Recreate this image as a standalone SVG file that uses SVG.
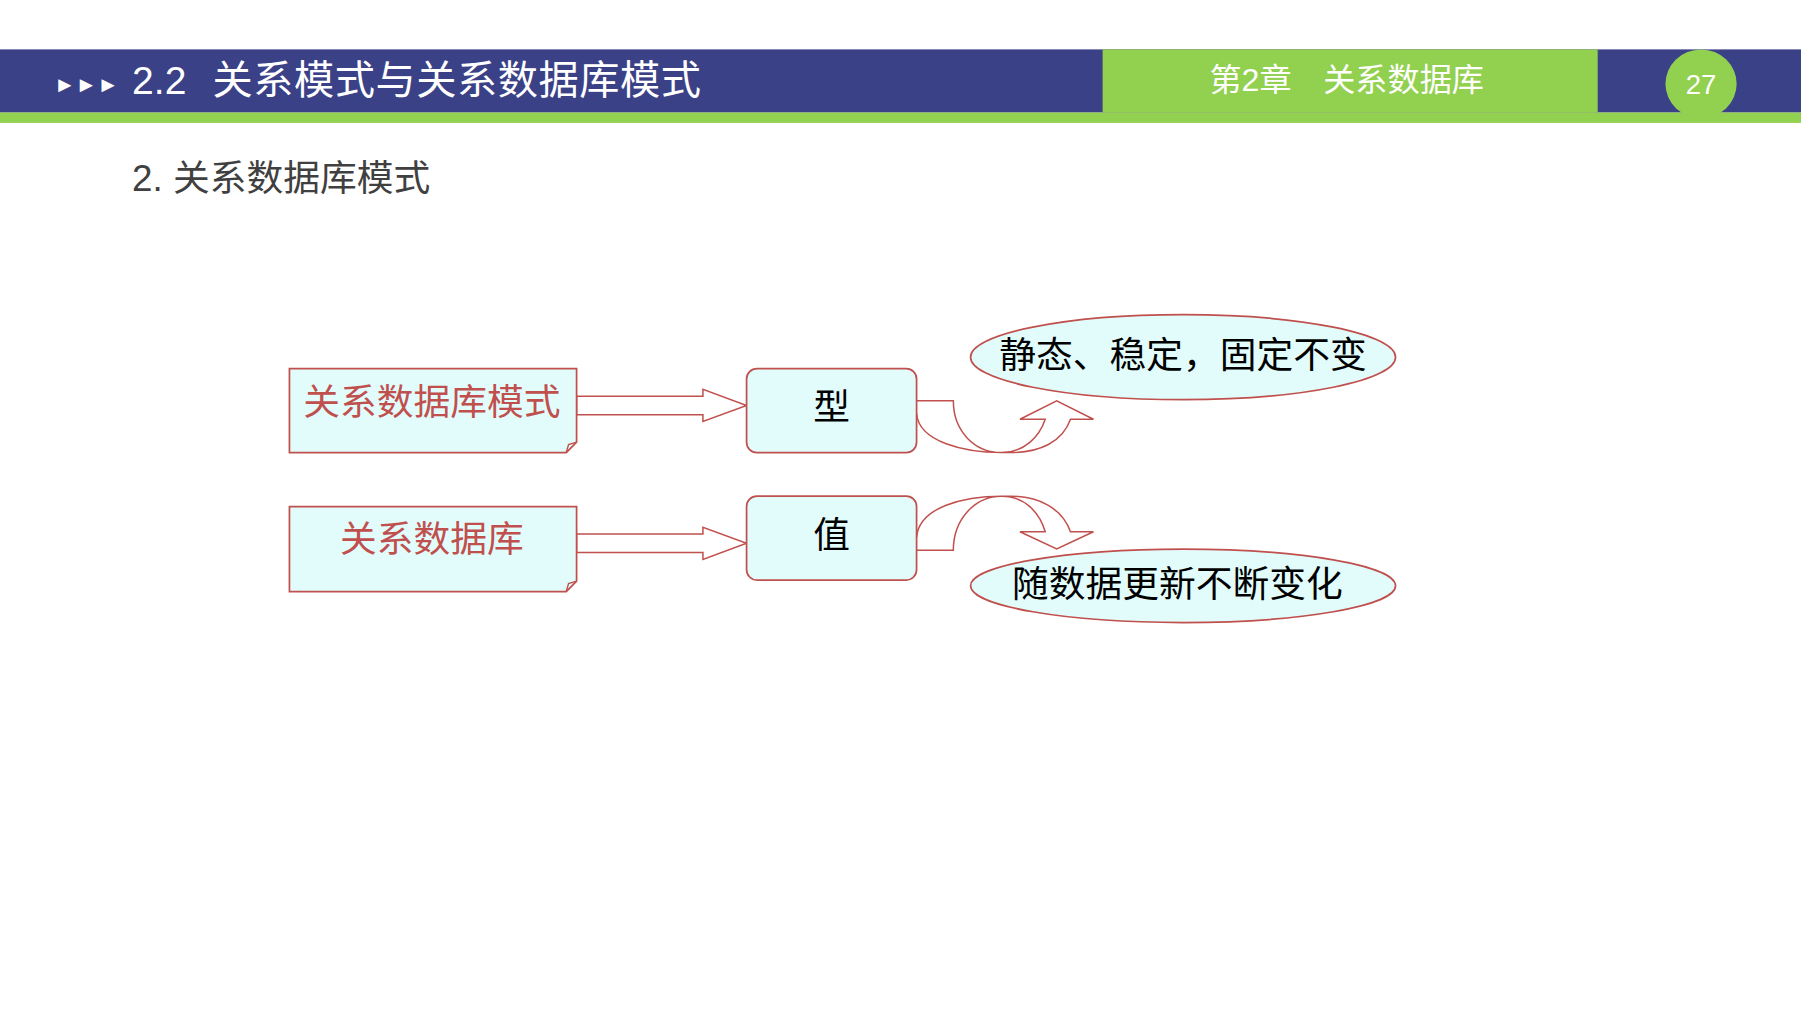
<svg xmlns="http://www.w3.org/2000/svg" width="1801" height="1013" viewBox="0 0 1801 1013">
<style>
text{font-family:"Liberation Sans","Noto Sans CJK SC",sans-serif}
.shape{fill:#e2fcfc;stroke:#c0504d;stroke-width:1.5}
.arr{fill:#fff;stroke:#c0504d;stroke-width:1.3}
.red{fill:#c0504d;font-size:32px;text-anchor:middle}
.blk{fill:#000;font-size:32px;text-anchor:middle}
</style>
<rect width="1801" height="1013" fill="#fff"/>
<g transform="scale(1.14859)">
<g id="header">
<rect x="0" y="43" width="1568" height="55" fill="#3b4187"/>
<rect x="0" y="98" width="1568" height="9" fill="#92d050"/>
<rect x="960" y="43" width="431" height="55" fill="#92d050"/>
<ellipse cx="1481" cy="73" rx="31" ry="30" fill="#92d050"/>
<text x="47" y="80" fill="#fff" font-size="19">►►►</text>
<text x="115" y="82" fill="#fff" font-size="34">2.2</text>
<text x="185" y="82" fill="#fff" font-size="35" letter-spacing="0.5">关系模式与关系数据库模式</text>
<text x="1053" y="79" fill="#fff" font-size="28">第2章</text>
<text x="1152" y="79" fill="#fff" font-size="28">关系数据库</text>
<text x="1481" y="82" fill="#fff" font-size="24" text-anchor="middle">27</text>
</g>
<text id="subtitle" x="115" y="166" fill="#404040" font-size="32">2. 关系数据库模式</text>
<g id="connectors">
<path class="arr" d="M502,345 H612 V339 L650,353 L612,367 V361 H502 Z"/>
<path class="arr" d="M502,465 H612 V459 L650,473 L612,487 V481 H502 Z"/>
<path class="arr" d="M798,349 L830,349 C830,375 848,394 872,394 C892,394 905,380 910,365 L888,365 L920,349 L952,365 L932,365 C925,385 905,394 880,394 L872,394 C840,394 800,385 798,360"/>
<path class="arr" d="M798,479 L830,479 C830,453 848,432 872,432 C892,432 905,446 910,463 L888,463 L920,478 L952,463 L932,463 C925,443 905,432 880,432 L872,432 C840,432 800,441 798,468"/>
</g>
<g id="note1">
<path class="shape" d="M252,321 H502 V385 L493,394 H252 Z"/>
<path d="M493,394 L495,387 L502,385" fill="none" stroke="#c0504d" stroke-width="1.2"/>
<text class="red" x="376" y="361">关系数据库模式</text>
</g>
<g id="note2">
<path class="shape" d="M252,441 H502 V506 L493,515 H252 Z"/>
<path d="M493,515 L495,508 L502,506" fill="none" stroke="#c0504d" stroke-width="1.2"/>
<text class="red" x="376" y="481">关系数据库</text>
</g>
<g id="type"><rect class="shape" x="650" y="321" width="148" height="73" rx="9"/><text class="blk" x="724" y="366">型</text></g>
<g id="value"><rect class="shape" x="650" y="432" width="148" height="73" rx="9"/><text class="blk" x="724" y="477">值</text></g>
<g id="static"><ellipse class="shape" cx="1030" cy="311" rx="185" ry="37"/><text class="blk" x="1030" y="320">静态、稳定，固定不变</text></g>
<g id="dynamic"><ellipse class="shape" cx="1030" cy="510" rx="185" ry="32"/><text class="blk" x="1025" y="520">随数据更新不断变化</text></g>
</g>
</svg>
